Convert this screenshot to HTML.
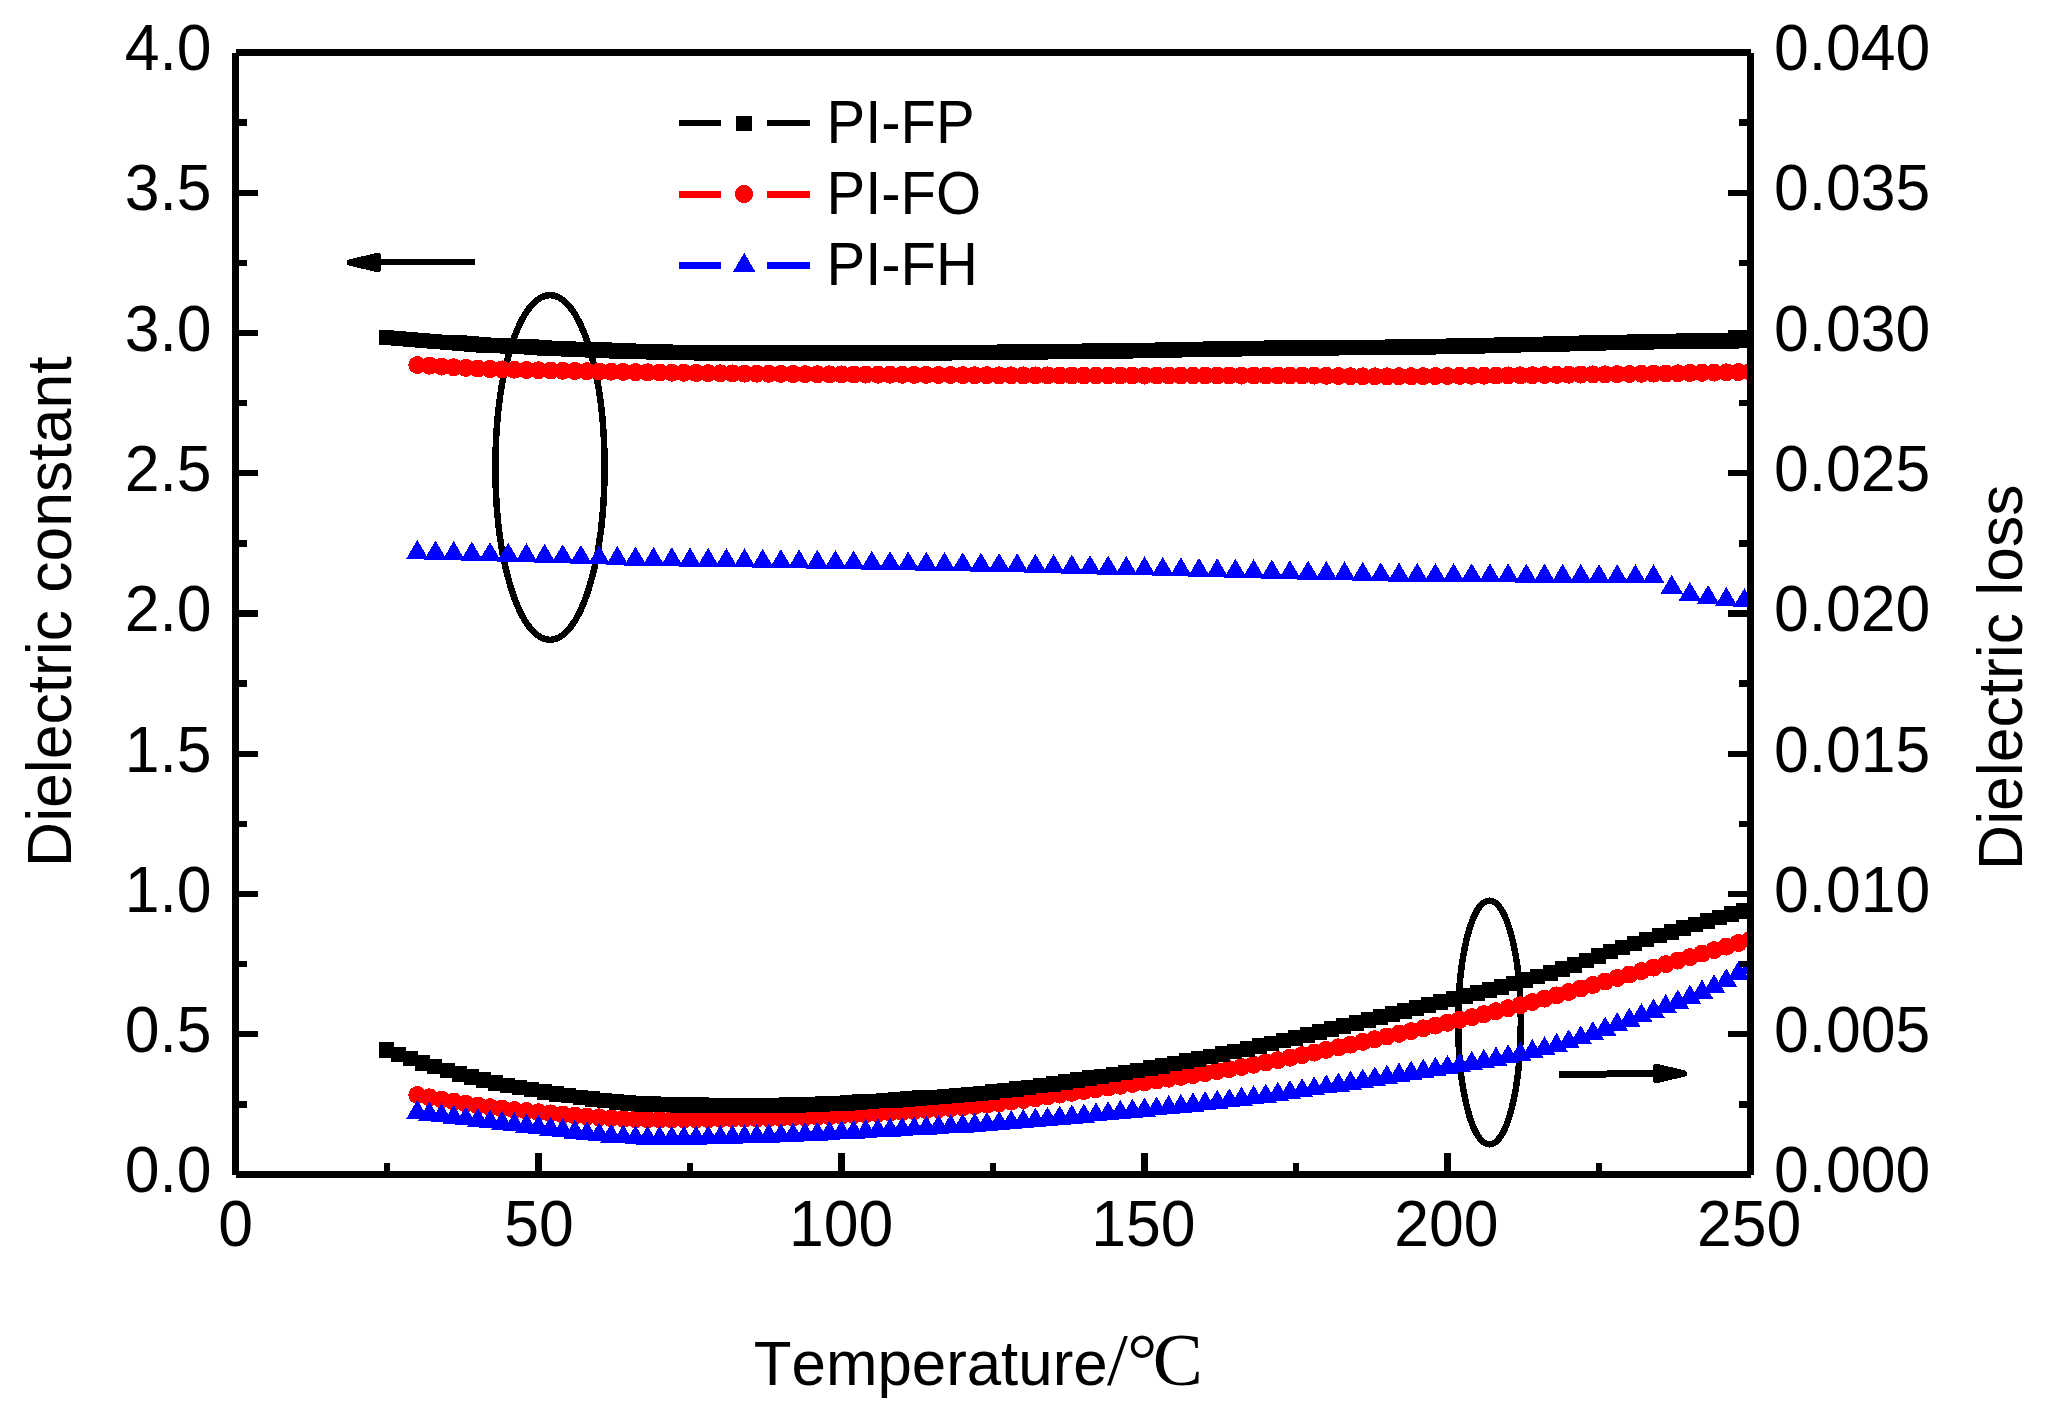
<!DOCTYPE html>
<html><head><meta charset="utf-8"><title>Dielectric constant and loss vs temperature</title>
<style>
html,body{margin:0;padding:0;background:#fff}
svg{display:block}
text{font-family:"Liberation Sans",sans-serif;font-size:62.5px;fill:#000;font-kerning:none;font-variant-ligatures:none}
.lg{font-size:58px}
.ser{font-family:"Liberation Serif",serif;font-size:75px}
</style></head><body>
<svg width="2066" height="1422" viewBox="0 0 2066 1422">
<rect width="2066" height="1422" fill="#fff"/>
<defs><clipPath id="cp"><rect x="232" y="49" width="1518.5" height="1129"/></clipPath></defs>
<g shape-rendering="crispEdges">
<g fill="none" stroke="#000" stroke-width="6.5">
<ellipse cx="550" cy="467.5" rx="54.6" ry="172.4"/>
<ellipse cx="1489.5" cy="1022.5" rx="31.3" ry="121.9"/>
</g>
<g clip-path="url(#cp)">
<g fill="#f00"><circle cx="417.3" cy="365" r="9"/><circle cx="429.4" cy="365.7" r="9"/><circle cx="441.5" cy="366.5" r="9"/><circle cx="453.7" cy="367.2" r="9"/><circle cx="465.8" cy="367.9" r="9"/><circle cx="477.9" cy="368.5" r="9"/><circle cx="490" cy="369" r="9"/><circle cx="502.1" cy="369.4" r="9"/><circle cx="514.3" cy="369.7" r="9"/><circle cx="526.4" cy="370" r="9"/><circle cx="538.5" cy="370.2" r="9"/><circle cx="550.6" cy="370.5" r="9"/><circle cx="562.7" cy="370.8" r="9"/><circle cx="574.9" cy="371" r="9"/><circle cx="587" cy="371.2" r="9"/><circle cx="599.1" cy="371.5" r="9"/><circle cx="611.2" cy="371.7" r="9"/><circle cx="623.3" cy="371.9" r="9"/><circle cx="635.5" cy="372.1" r="9"/><circle cx="647.6" cy="372.3" r="9"/><circle cx="659.7" cy="372.5" r="9"/><circle cx="671.8" cy="372.7" r="9"/><circle cx="683.9" cy="372.8" r="9"/><circle cx="696.1" cy="373" r="9"/><circle cx="708.2" cy="373.1" r="9"/><circle cx="720.3" cy="373.3" r="9"/><circle cx="732.4" cy="373.4" r="9"/><circle cx="744.5" cy="373.6" r="9"/><circle cx="756.7" cy="373.7" r="9"/><circle cx="768.8" cy="373.8" r="9"/><circle cx="780.9" cy="373.9" r="9"/><circle cx="793" cy="374" r="9"/><circle cx="805.1" cy="374.1" r="9"/><circle cx="817.3" cy="374.2" r="9"/><circle cx="829.4" cy="374.3" r="9"/><circle cx="841.5" cy="374.4" r="9"/><circle cx="853.6" cy="374.5" r="9"/><circle cx="865.7" cy="374.6" r="9"/><circle cx="877.9" cy="374.7" r="9"/><circle cx="890" cy="374.7" r="9"/><circle cx="902.1" cy="374.8" r="9"/><circle cx="914.2" cy="374.9" r="9"/><circle cx="926.3" cy="374.9" r="9"/><circle cx="938.5" cy="375" r="9"/><circle cx="950.6" cy="375" r="9"/><circle cx="962.7" cy="375.1" r="9"/><circle cx="974.8" cy="375.2" r="9"/><circle cx="986.9" cy="375.2" r="9"/><circle cx="999.1" cy="375.3" r="9"/><circle cx="1011.2" cy="375.3" r="9"/><circle cx="1023.3" cy="375.4" r="9"/><circle cx="1035.4" cy="375.4" r="9"/><circle cx="1047.5" cy="375.4" r="9"/><circle cx="1059.7" cy="375.5" r="9"/><circle cx="1071.8" cy="375.5" r="9"/><circle cx="1083.9" cy="375.5" r="9"/><circle cx="1096" cy="375.5" r="9"/><circle cx="1108.1" cy="375.5" r="9"/><circle cx="1120.3" cy="375.5" r="9"/><circle cx="1132.4" cy="375.5" r="9"/><circle cx="1144.5" cy="375.5" r="9"/><circle cx="1156.6" cy="375.5" r="9"/><circle cx="1168.7" cy="375.5" r="9"/><circle cx="1180.9" cy="375.5" r="9"/><circle cx="1193" cy="375.5" r="9"/><circle cx="1205.1" cy="375.5" r="9"/><circle cx="1217.2" cy="375.5" r="9"/><circle cx="1229.3" cy="375.5" r="9"/><circle cx="1241.5" cy="375.5" r="9"/><circle cx="1253.6" cy="375.5" r="9"/><circle cx="1265.7" cy="375.5" r="9"/><circle cx="1277.8" cy="375.5" r="9"/><circle cx="1289.9" cy="375.5" r="9"/><circle cx="1302.1" cy="375.5" r="9"/><circle cx="1314.2" cy="375.6" r="9"/><circle cx="1326.3" cy="375.8" r="9"/><circle cx="1338.4" cy="376" r="9"/><circle cx="1350.5" cy="376.2" r="9"/><circle cx="1362.7" cy="376.3" r="9"/><circle cx="1374.8" cy="376.3" r="9"/><circle cx="1386.9" cy="376.3" r="9"/><circle cx="1399" cy="376.2" r="9"/><circle cx="1411.1" cy="376.2" r="9"/><circle cx="1423.3" cy="376.1" r="9"/><circle cx="1435.4" cy="376.1" r="9"/><circle cx="1447.5" cy="376" r="9"/><circle cx="1459.6" cy="375.9" r="9"/><circle cx="1471.7" cy="375.8" r="9"/><circle cx="1483.9" cy="375.7" r="9"/><circle cx="1496" cy="375.6" r="9"/><circle cx="1508.1" cy="375.4" r="9"/><circle cx="1520.2" cy="375.3" r="9"/><circle cx="1532.3" cy="375.2" r="9"/><circle cx="1544.5" cy="375" r="9"/><circle cx="1556.6" cy="374.9" r="9"/><circle cx="1568.7" cy="374.7" r="9"/><circle cx="1580.8" cy="374.6" r="9"/><circle cx="1592.9" cy="374.4" r="9"/><circle cx="1605.1" cy="374.3" r="9"/><circle cx="1617.2" cy="374.1" r="9"/><circle cx="1629.3" cy="374" r="9"/><circle cx="1641.4" cy="373.8" r="9"/><circle cx="1653.5" cy="373.7" r="9"/><circle cx="1665.7" cy="373.5" r="9"/><circle cx="1677.8" cy="373.3" r="9"/><circle cx="1689.9" cy="373" r="9"/><circle cx="1702" cy="372.8" r="9"/><circle cx="1714.1" cy="372.6" r="9"/><circle cx="1726.3" cy="372.3" r="9"/><circle cx="1738.4" cy="372.1" r="9"/><circle cx="1750.5" cy="371.8" r="9"/></g>
<path fill="#00f" d="M417.3 539.9L428.5 558.9L406.1 558.9zM435.5 540.5L446.7 559.5L424.3 559.5zM453.7 541L464.9 560L442.5 560zM471.8 541.6L483 560.6L460.6 560.6zM490 542.1L501.2 561.1L478.8 561.1zM508.2 542.7L519.4 561.7L497 561.7zM526.4 543.2L537.6 562.2L515.2 562.2zM544.6 543.8L555.8 562.8L533.4 562.8zM562.7 544.3L573.9 563.3L551.5 563.3zM580.9 544.9L592.1 563.9L569.7 563.9zM599.1 545.4L610.3 564.4L587.9 564.4zM617.3 546L628.5 565L606.1 565zM635.5 546.5L646.7 565.5L624.3 565.5zM653.6 546.9L664.8 565.9L642.4 565.9zM671.8 547.2L683 566.2L660.6 566.2zM690 547.5L701.2 566.5L678.8 566.5zM708.2 547.8L719.4 566.8L697 566.8zM726.4 548.1L737.6 567.1L715.2 567.1zM744.5 548.4L755.7 567.4L733.3 567.4zM762.7 548.8L773.9 567.8L751.5 567.8zM780.9 549.1L792.1 568.1L769.7 568.1zM799.1 549.4L810.3 568.4L787.9 568.4zM817.3 549.7L828.5 568.7L806.1 568.7zM835.4 550L846.6 569L824.2 569zM853.6 550.4L864.8 569.4L842.4 569.4zM871.8 550.7L883 569.7L860.6 569.7zM890 551L901.2 570L878.8 570zM908.2 551.3L919.4 570.3L897 570.3zM926.3 551.6L937.5 570.6L915.1 570.6zM944.5 552L955.7 571L933.3 571zM962.7 552.3L973.9 571.3L951.5 571.3zM980.9 552.6L992.1 571.6L969.7 571.6zM999.1 552.9L1010.3 571.9L987.9 571.9zM1017.2 553.2L1028.4 572.2L1006 572.2zM1035.4 553.7L1046.6 572.7L1024.2 572.7zM1053.6 554.1L1064.8 573.1L1042.4 573.1zM1071.8 554.6L1083 573.6L1060.6 573.6zM1090 555.1L1101.2 574.1L1078.8 574.1zM1108.1 555.5L1119.3 574.5L1096.9 574.5zM1126.3 556L1137.5 575L1115.1 575zM1144.5 556.4L1155.7 575.4L1133.3 575.4zM1162.7 556.9L1173.9 575.9L1151.5 575.9zM1180.9 557.3L1192.1 576.3L1169.7 576.3zM1199 557.8L1210.2 576.8L1187.8 576.8zM1217.2 558.2L1228.4 577.2L1206 577.2zM1235.4 558.7L1246.6 577.7L1224.2 577.7zM1253.6 559.1L1264.8 578.1L1242.4 578.1zM1271.8 559.6L1283 578.6L1260.6 578.6zM1289.9 560.1L1301.1 579.1L1278.7 579.1zM1308.1 560.5L1319.3 579.5L1296.9 579.5zM1326.3 561L1337.5 580L1315.1 580zM1344.5 561.4L1355.7 580.4L1333.3 580.4zM1362.7 561.9L1373.9 580.9L1351.5 580.9zM1380.8 562.3L1392 581.3L1369.6 581.3zM1399 562.6L1410.2 581.6L1387.8 581.6zM1417.2 562.8L1428.4 581.8L1406 581.8zM1435.4 563L1446.6 582L1424.2 582zM1453.6 563.1L1464.8 582.1L1442.4 582.1zM1471.7 563.2L1482.9 582.2L1460.5 582.2zM1489.9 563.3L1501.1 582.3L1478.7 582.3zM1508.1 563.4L1519.3 582.4L1496.9 582.4zM1526.3 563.6L1537.5 582.6L1515.1 582.6zM1544.5 563.7L1555.7 582.7L1533.3 582.7zM1562.6 563.8L1573.8 582.8L1551.4 582.8zM1580.8 563.9L1592 582.9L1569.6 582.9zM1599 564.1L1610.2 583.1L1587.8 583.1zM1617.2 564.2L1628.4 583.2L1606 583.2zM1635.4 564.3L1646.6 583.3L1624.2 583.3zM1653.5 564.4L1664.7 583.4L1642.3 583.4zM1671.7 574.8L1682.9 593.8L1660.5 593.8zM1689.9 581.8L1701.1 600.8L1678.7 600.8zM1708.1 585L1719.3 604L1696.9 604zM1726.3 587L1737.5 606L1715.1 606zM1744.4 588L1755.6 607L1733.2 607z"/>
<path fill="#000" d="M379 329.7h15v15.6h-15zM391 330.7h15v15.6h-15zM403 331.7h15v15.6h-15zM415 332.7h15v15.6h-15zM427 333.6h15v15.6h-15zM440 334.5h15v15.6h-15zM452 335.3h15v15.6h-15zM464 336.1h15v15.6h-15zM476 336.9h15v15.6h-15zM488 337.6h15v15.6h-15zM500 338.2h15v15.6h-15zM512 338.8h15v15.6h-15zM524 339.4h15v15.6h-15zM537 340h15v15.6h-15zM549 340.5h15v15.6h-15zM561 341h15v15.6h-15zM573 341.5h15v15.6h-15zM585 342h15v15.6h-15zM597 342.4h15v15.6h-15zM609 342.9h15v15.6h-15zM621 343.3h15v15.6h-15zM634 343.7h15v15.6h-15zM646 344.1h15v15.6h-15zM658 344.4h15v15.6h-15zM670 344.6h15v15.6h-15zM682 344.8h15v15.6h-15zM694 344.9h15v15.6h-15zM706 345h15v15.6h-15zM718 345h15v15.6h-15zM730 345h15v15.6h-15zM743 345h15v15.6h-15zM755 345h15v15.6h-15zM767 345h15v15.6h-15zM779 345h15v15.6h-15zM791 345h15v15.6h-15zM803 345h15v15.6h-15zM815 345h15v15.6h-15zM827 345h15v15.6h-15zM840 345h15v15.6h-15zM852 345h15v15.6h-15zM864 345h15v15.6h-15zM876 345h15v15.6h-15zM888 345h15v15.6h-15zM900 345h15v15.6h-15zM912 345h15v15.6h-15zM924 344.9h15v15.6h-15zM937 344.9h15v15.6h-15zM949 344.8h15v15.6h-15zM961 344.7h15v15.6h-15zM973 344.6h15v15.6h-15zM985 344.5h15v15.6h-15zM997 344.4h15v15.6h-15zM1009 344.2h15v15.6h-15zM1021 344.1h15v15.6h-15zM1033 343.9h15v15.6h-15zM1046 343.8h15v15.6h-15zM1058 343.6h15v15.6h-15zM1070 343.5h15v15.6h-15zM1082 343.3h15v15.6h-15zM1094 343.2h15v15.6h-15zM1106 343h15v15.6h-15zM1118 342.9h15v15.6h-15zM1130 342.7h15v15.6h-15zM1143 342.5h15v15.6h-15zM1155 342.2h15v15.6h-15zM1167 342h15v15.6h-15zM1179 341.8h15v15.6h-15zM1191 341.5h15v15.6h-15zM1203 341.3h15v15.6h-15zM1215 341.1h15v15.6h-15zM1227 340.9h15v15.6h-15zM1240 340.7h15v15.6h-15zM1252 340.5h15v15.6h-15zM1264 340.3h15v15.6h-15zM1276 340.2h15v15.6h-15zM1288 340h15v15.6h-15zM1300 340h15v15.6h-15zM1312 339.9h15v15.6h-15zM1324 339.9h15v15.6h-15zM1336 339.8h15v15.6h-15zM1349 339.7h15v15.6h-15zM1361 339.7h15v15.6h-15zM1373 339.5h15v15.6h-15zM1385 339.4h15v15.6h-15zM1397 339.2h15v15.6h-15zM1409 339.1h15v15.6h-15zM1421 338.9h15v15.6h-15zM1433 338.7h15v15.6h-15zM1446 338.4h15v15.6h-15zM1458 338.2h15v15.6h-15zM1470 337.9h15v15.6h-15zM1482 337.6h15v15.6h-15zM1494 337.4h15v15.6h-15zM1506 337.1h15v15.6h-15zM1518 336.8h15v15.6h-15zM1530 336.5h15v15.6h-15zM1543 336.2h15v15.6h-15zM1555 335.9h15v15.6h-15zM1567 335.6h15v15.6h-15zM1579 335.3h15v15.6h-15zM1591 335.1h15v15.6h-15zM1603 334.8h15v15.6h-15zM1615 334.5h15v15.6h-15zM1627 334.3h15v15.6h-15zM1639 334h15v15.6h-15zM1652 333.8h15v15.6h-15zM1664 333.6h15v15.6h-15zM1676 333.4h15v15.6h-15zM1688 333.3h15v15.6h-15zM1700 333.1h15v15.6h-15zM1712 333h15v15.6h-15zM1724 332.9h15v15.6h-15zM1736 332.8h15v15.6h-15z"/>
<rect x="1728" y="330" width="20" height="15" fill="#000"/>
<g fill="#f00"><circle cx="417.3" cy="1095" r="9"/><circle cx="429.4" cy="1097.3" r="9"/><circle cx="441.5" cy="1099.5" r="9"/><circle cx="453.7" cy="1101.6" r="9"/><circle cx="465.8" cy="1103.7" r="9"/><circle cx="477.9" cy="1105.5" r="9"/><circle cx="490" cy="1107.2" r="9"/><circle cx="502.1" cy="1108.7" r="9"/><circle cx="514.3" cy="1110" r="9"/><circle cx="526.4" cy="1111.1" r="9"/><circle cx="538.5" cy="1112.3" r="9"/><circle cx="550.6" cy="1113.4" r="9"/><circle cx="562.7" cy="1114.5" r="9"/><circle cx="574.9" cy="1115.5" r="9"/><circle cx="587" cy="1116.5" r="9"/><circle cx="599.1" cy="1117.3" r="9"/><circle cx="611.2" cy="1118.1" r="9"/><circle cx="623.3" cy="1118.7" r="9"/><circle cx="635.5" cy="1119.1" r="9"/><circle cx="647.6" cy="1119.4" r="9"/><circle cx="659.7" cy="1119.5" r="9"/><circle cx="671.8" cy="1119.5" r="9"/><circle cx="683.9" cy="1119.4" r="9"/><circle cx="696.1" cy="1119.3" r="9"/><circle cx="708.2" cy="1119.2" r="9"/><circle cx="720.3" cy="1119" r="9"/><circle cx="732.4" cy="1118.9" r="9"/><circle cx="744.5" cy="1118.7" r="9"/><circle cx="756.7" cy="1118.5" r="9"/><circle cx="768.8" cy="1118.2" r="9"/><circle cx="780.9" cy="1118" r="9"/><circle cx="793" cy="1117.7" r="9"/><circle cx="805.1" cy="1117.3" r="9"/><circle cx="817.3" cy="1116.9" r="9"/><circle cx="829.4" cy="1116.4" r="9"/><circle cx="841.5" cy="1115.8" r="9"/><circle cx="853.6" cy="1115.1" r="9"/><circle cx="865.7" cy="1114.4" r="9"/><circle cx="877.9" cy="1113.6" r="9"/><circle cx="890" cy="1112.8" r="9"/><circle cx="902.1" cy="1112" r="9"/><circle cx="914.2" cy="1111.1" r="9"/><circle cx="926.3" cy="1110.1" r="9"/><circle cx="938.5" cy="1109.2" r="9"/><circle cx="950.6" cy="1108.2" r="9"/><circle cx="962.7" cy="1107.2" r="9"/><circle cx="974.8" cy="1106" r="9"/><circle cx="986.9" cy="1104.7" r="9"/><circle cx="999.1" cy="1103.2" r="9"/><circle cx="1011.2" cy="1101.6" r="9"/><circle cx="1023.3" cy="1100" r="9"/><circle cx="1035.4" cy="1098.2" r="9"/><circle cx="1047.5" cy="1096.4" r="9"/><circle cx="1059.7" cy="1094.6" r="9"/><circle cx="1071.8" cy="1092.8" r="9"/><circle cx="1083.9" cy="1091" r="9"/><circle cx="1096" cy="1089.2" r="9"/><circle cx="1108.1" cy="1087.5" r="9"/><circle cx="1120.3" cy="1085.8" r="9"/><circle cx="1132.4" cy="1084" r="9"/><circle cx="1144.5" cy="1082.3" r="9"/><circle cx="1156.6" cy="1080.5" r="9"/><circle cx="1168.7" cy="1078.7" r="9"/><circle cx="1180.9" cy="1076.9" r="9"/><circle cx="1193" cy="1075" r="9"/><circle cx="1205.1" cy="1073.1" r="9"/><circle cx="1217.2" cy="1071.1" r="9"/><circle cx="1229.3" cy="1069.1" r="9"/><circle cx="1241.5" cy="1067" r="9"/><circle cx="1253.6" cy="1064.8" r="9"/><circle cx="1265.7" cy="1062.5" r="9"/><circle cx="1277.8" cy="1060.1" r="9"/><circle cx="1289.9" cy="1057.7" r="9"/><circle cx="1302.1" cy="1055.1" r="9"/><circle cx="1314.2" cy="1052.6" r="9"/><circle cx="1326.3" cy="1049.9" r="9"/><circle cx="1338.4" cy="1047.3" r="9"/><circle cx="1350.5" cy="1044.6" r="9"/><circle cx="1362.7" cy="1041.9" r="9"/><circle cx="1374.8" cy="1039.2" r="9"/><circle cx="1386.9" cy="1036.5" r="9"/><circle cx="1399" cy="1033.8" r="9"/><circle cx="1411.1" cy="1031.1" r="9"/><circle cx="1423.3" cy="1028.3" r="9"/><circle cx="1435.4" cy="1025.6" r="9"/><circle cx="1447.5" cy="1022.8" r="9"/><circle cx="1459.6" cy="1019.9" r="9"/><circle cx="1471.7" cy="1017.1" r="9"/><circle cx="1483.9" cy="1014.2" r="9"/><circle cx="1496" cy="1011.2" r="9"/><circle cx="1508.1" cy="1008.2" r="9"/><circle cx="1520.2" cy="1005.2" r="9"/><circle cx="1532.3" cy="1002" r="9"/><circle cx="1544.5" cy="998.7" r="9"/><circle cx="1556.6" cy="995.4" r="9"/><circle cx="1568.7" cy="992" r="9"/><circle cx="1580.8" cy="988.5" r="9"/><circle cx="1592.9" cy="985" r="9"/><circle cx="1605.1" cy="981.5" r="9"/><circle cx="1617.2" cy="978" r="9"/><circle cx="1629.3" cy="974.5" r="9"/><circle cx="1641.4" cy="971.1" r="9"/><circle cx="1653.5" cy="967.6" r="9"/><circle cx="1665.7" cy="964.1" r="9"/><circle cx="1677.8" cy="960.6" r="9"/><circle cx="1689.9" cy="957.1" r="9"/><circle cx="1702" cy="953.6" r="9"/><circle cx="1714.1" cy="950.1" r="9"/><circle cx="1726.3" cy="946.6" r="9"/><circle cx="1738.4" cy="943" r="9"/><circle cx="1750.5" cy="939.5" r="9"/></g>
<path fill="#00f" d="M417.3 1099.9L428.5 1118.9L406.1 1118.9zM429.4 1101.6L440.6 1120.6L418.2 1120.6zM441.5 1103.2L452.7 1122.2L430.3 1122.2zM453.7 1104.8L464.9 1123.8L442.5 1123.8zM465.8 1106.4L477 1125.4L454.6 1125.4zM477.9 1107.9L489.1 1126.9L466.7 1126.9zM490 1109.4L501.2 1128.4L478.8 1128.4zM502.1 1110.8L513.3 1129.8L490.9 1129.8zM514.3 1112.1L525.5 1131.1L503.1 1131.1zM526.4 1113.5L537.6 1132.5L515.2 1132.5zM538.5 1115L549.7 1134L527.3 1134zM550.6 1116.5L561.8 1135.5L539.4 1135.5zM562.7 1118L573.9 1137L551.5 1137zM574.9 1119.5L586.1 1138.5L563.7 1138.5zM587 1121L598.2 1140L575.8 1140zM599.1 1122.3L610.3 1141.3L587.9 1141.3zM611.2 1123.5L622.4 1142.5L600 1142.5zM623.3 1124.4L634.5 1143.4L612.1 1143.4zM635.5 1125.2L646.7 1144.2L624.3 1144.2zM647.6 1125.7L658.8 1144.7L636.4 1144.7zM659.7 1125.8L670.9 1144.8L648.5 1144.8zM671.8 1125.8L683 1144.8L660.6 1144.8zM683.9 1125.7L695.1 1144.7L672.7 1144.7zM696.1 1125.6L707.3 1144.6L684.9 1144.6zM708.2 1125.4L719.4 1144.4L697 1144.4zM720.3 1125.1L731.5 1144.1L709.1 1144.1zM732.4 1124.8L743.6 1143.8L721.2 1143.8zM744.5 1124.4L755.7 1143.4L733.3 1143.4zM756.7 1124L767.9 1143L745.5 1143zM768.8 1123.6L780 1142.6L757.6 1142.6zM780.9 1123.1L792.1 1142.1L769.7 1142.1zM793 1122.6L804.2 1141.6L781.8 1141.6zM805.1 1122.1L816.3 1141.1L793.9 1141.1zM817.3 1121.5L828.5 1140.5L806.1 1140.5zM829.4 1120.9L840.6 1139.9L818.2 1139.9zM841.5 1120.3L852.7 1139.3L830.3 1139.3zM853.6 1119.7L864.8 1138.7L842.4 1138.7zM865.7 1119L876.9 1138L854.5 1138zM877.9 1118.3L889.1 1137.3L866.7 1137.3zM890 1117.6L901.2 1136.6L878.8 1136.6zM902.1 1117L913.3 1136L890.9 1136zM914.2 1116.3L925.4 1135.3L903 1135.3zM926.3 1115.6L937.5 1134.6L915.1 1134.6zM938.5 1114.9L949.7 1133.9L927.3 1133.9zM950.6 1114.2L961.8 1133.2L939.4 1133.2zM962.7 1113.5L973.9 1132.5L951.5 1132.5zM974.8 1112.7L986 1131.7L963.6 1131.7zM986.9 1111.9L998.1 1130.9L975.7 1130.9zM999.1 1111L1010.3 1130L987.9 1130zM1011.2 1110L1022.4 1129L1000 1129zM1023.3 1109L1034.5 1128L1012.1 1128zM1035.4 1107.9L1046.6 1126.9L1024.2 1126.9zM1047.5 1106.9L1058.7 1125.9L1036.3 1125.9zM1059.7 1105.7L1070.9 1124.7L1048.5 1124.7zM1071.8 1104.6L1083 1123.6L1060.6 1123.6zM1083.9 1103.5L1095.1 1122.5L1072.7 1122.5zM1096 1102.3L1107.2 1121.3L1084.8 1121.3zM1108.1 1101.2L1119.3 1120.2L1096.9 1120.2zM1120.3 1100L1131.5 1119L1109.1 1119zM1132.4 1098.8L1143.6 1117.8L1121.2 1117.8zM1144.5 1097.6L1155.7 1116.6L1133.3 1116.6zM1156.6 1096.4L1167.8 1115.4L1145.4 1115.4zM1168.7 1095.1L1179.9 1114.1L1157.5 1114.1zM1180.9 1093.8L1192.1 1112.8L1169.7 1112.8zM1193 1092.5L1204.2 1111.5L1181.8 1111.5zM1205.1 1091.1L1216.3 1110.1L1193.9 1110.1zM1217.2 1089.7L1228.4 1108.7L1206 1108.7zM1229.3 1088.2L1240.5 1107.2L1218.1 1107.2zM1241.5 1086.7L1252.7 1105.7L1230.3 1105.7zM1253.6 1085.2L1264.8 1104.2L1242.4 1104.2zM1265.7 1083.5L1276.9 1102.5L1254.5 1102.5zM1277.8 1081.8L1289 1100.8L1266.6 1100.8zM1289.9 1080L1301.1 1099L1278.7 1099zM1302.1 1078.2L1313.3 1097.2L1290.9 1097.2zM1314.2 1076.3L1325.4 1095.3L1303 1095.3zM1326.3 1074.4L1337.5 1093.4L1315.1 1093.4zM1338.4 1072.5L1349.6 1091.5L1327.2 1091.5zM1350.5 1070.5L1361.7 1089.5L1339.3 1089.5zM1362.7 1068.5L1373.9 1087.5L1351.5 1087.5zM1374.8 1066.5L1386 1085.5L1363.6 1085.5zM1386.9 1064.5L1398.1 1083.5L1375.7 1083.5zM1399 1062.6L1410.2 1081.6L1387.8 1081.6zM1411.1 1060.6L1422.3 1079.6L1399.9 1079.6zM1423.3 1058.7L1434.5 1077.7L1412.1 1077.7zM1435.4 1056.8L1446.6 1075.8L1424.2 1075.8zM1447.5 1054.9L1458.7 1073.9L1436.3 1073.9zM1459.6 1052.9L1470.8 1071.9L1448.4 1071.9zM1471.7 1050.9L1482.9 1069.9L1460.5 1069.9zM1483.9 1048.8L1495.1 1067.8L1472.7 1067.8zM1496 1046.6L1507.2 1065.6L1484.8 1065.6zM1508.1 1044.2L1519.3 1063.2L1496.9 1063.2zM1520.2 1041.7L1531.4 1060.7L1509 1060.7zM1532.3 1039.1L1543.5 1058.1L1521.1 1058.1zM1544.5 1036.2L1555.7 1055.2L1533.3 1055.2zM1556.6 1032.9L1567.8 1051.9L1545.4 1051.9zM1568.7 1029.3L1579.9 1048.3L1557.5 1048.3zM1580.8 1025.3L1592 1044.3L1569.6 1044.3zM1592.9 1021.1L1604.1 1040.1L1581.7 1040.1zM1605.1 1016.7L1616.3 1035.7L1593.9 1035.7zM1617.2 1012.2L1628.4 1031.2L1606 1031.2zM1629.3 1007.7L1640.5 1026.7L1618.1 1026.7zM1641.4 1003.1L1652.6 1022.1L1630.2 1022.1zM1653.5 998.7L1664.7 1017.7L1642.3 1017.7zM1665.7 994.1L1676.9 1013.1L1654.5 1013.1zM1677.8 989.5L1689 1008.5L1666.6 1008.5zM1689.9 984.7L1701.1 1003.7L1678.7 1003.7zM1702 979.6L1713.2 998.6L1690.8 998.6zM1714.1 974.2L1725.3 993.2L1702.9 993.2zM1726.3 968.3L1737.5 987.3L1715.1 987.3zM1738.4 961.2L1749.6 980.2L1727.2 980.2zM1750.5 955.3L1761.7 974.3L1739.3 974.3z"/>
<path fill="#000" d="M379 1042.2h15v15.6h-15zM391 1046.6h15v15.6h-15zM403 1050.8h15v15.6h-15zM415 1054.9h15v15.6h-15zM427 1058.8h15v15.6h-15zM440 1062.6h15v15.6h-15zM452 1066.1h15v15.6h-15zM464 1069.4h15v15.6h-15zM476 1072.4h15v15.6h-15zM488 1075.2h15v15.6h-15zM500 1077.6h15v15.6h-15zM512 1079.8h15v15.6h-15zM524 1081.8h15v15.6h-15zM537 1083.9h15v15.6h-15zM549 1085.9h15v15.6h-15zM561 1087.8h15v15.6h-15zM573 1089.6h15v15.6h-15zM585 1091.2h15v15.6h-15zM597 1092.7h15v15.6h-15zM609 1094h15v15.6h-15zM621 1095h15v15.6h-15zM634 1095.9h15v15.6h-15zM646 1096.4h15v15.6h-15zM658 1096.7h15v15.6h-15zM670 1097h15v15.6h-15zM682 1097.2h15v15.6h-15zM694 1097.4h15v15.6h-15zM706 1097.6h15v15.6h-15zM718 1097.7h15v15.6h-15zM730 1097.8h15v15.6h-15zM743 1097.8h15v15.6h-15zM755 1097.7h15v15.6h-15zM767 1097.6h15v15.6h-15zM779 1097.4h15v15.6h-15zM791 1097h15v15.6h-15zM803 1096.6h15v15.6h-15zM815 1096.1h15v15.6h-15zM827 1095.6h15v15.6h-15zM840 1095h15v15.6h-15zM852 1094.3h15v15.6h-15zM864 1093.6h15v15.6h-15zM876 1092.8h15v15.6h-15zM888 1092h15v15.6h-15zM900 1091.2h15v15.6h-15zM912 1090.4h15v15.6h-15zM924 1089.5h15v15.6h-15zM937 1088.6h15v15.6h-15zM949 1087.7h15v15.6h-15zM961 1086.7h15v15.6h-15zM973 1085.5h15v15.6h-15zM985 1084.2h15v15.6h-15zM997 1082.7h15v15.6h-15zM1009 1081.1h15v15.6h-15zM1021 1079.5h15v15.6h-15zM1033 1077.8h15v15.6h-15zM1046 1076h15v15.6h-15zM1058 1074.1h15v15.6h-15zM1070 1072.3h15v15.6h-15zM1082 1070.4h15v15.6h-15zM1094 1068.5h15v15.6h-15zM1106 1066.6h15v15.6h-15zM1118 1064.6h15v15.6h-15zM1130 1062.5h15v15.6h-15zM1143 1060.3h15v15.6h-15zM1155 1058.1h15v15.6h-15zM1167 1055.7h15v15.6h-15zM1179 1053.4h15v15.6h-15zM1191 1051h15v15.6h-15zM1203 1048.5h15v15.6h-15zM1215 1046h15v15.6h-15zM1227 1043.5h15v15.6h-15zM1240 1040.9h15v15.6h-15zM1252 1038.3h15v15.6h-15zM1264 1035.5h15v15.6h-15zM1276 1032.7h15v15.6h-15zM1288 1029.9h15v15.6h-15zM1300 1026.9h15v15.6h-15zM1312 1024h15v15.6h-15zM1324 1021h15v15.6h-15zM1336 1017.9h15v15.6h-15zM1349 1014.9h15v15.6h-15zM1361 1011.9h15v15.6h-15zM1373 1008.9h15v15.6h-15zM1385 1005.9h15v15.6h-15zM1397 1002.9h15v15.6h-15zM1409 999.9h15v15.6h-15zM1421 997h15v15.6h-15zM1433 994.1h15v15.6h-15zM1446 991.1h15v15.6h-15zM1458 988.2h15v15.6h-15zM1470 985.1h15v15.6h-15zM1482 982h15v15.6h-15zM1494 978.9h15v15.6h-15zM1506 975.6h15v15.6h-15zM1518 972.2h15v15.6h-15zM1530 968.7h15v15.6h-15zM1543 965h15v15.6h-15zM1555 961.1h15v15.6h-15zM1567 956.9h15v15.6h-15zM1579 952.5h15v15.6h-15zM1591 948.2h15v15.6h-15zM1603 943.8h15v15.6h-15zM1615 939.5h15v15.6h-15zM1627 935.5h15v15.6h-15zM1639 931.6h15v15.6h-15zM1652 927.8h15v15.6h-15zM1664 924h15v15.6h-15zM1676 920.4h15v15.6h-15zM1688 916.7h15v15.6h-15zM1700 913.2h15v15.6h-15zM1712 909.7h15v15.6h-15zM1724 906.3h15v15.6h-15zM1736 902.9h15v15.6h-15z"/>
</g>
<path fill="none" stroke="#000" stroke-width="7" d="M235.5 52.5V1174.5M235.5 52.5H1750.5M1750.5 52.5V1174.5M235.5 1174.5H1750.5"/>
<path fill="none" stroke="#000" stroke-width="6.5" d="M239 122.6h8M1747 122.6h-8M239 192.8h19M1747 192.8h-19M239 262.9h8M1747 262.9h-8M239 333h19M1747 333h-19M239 403.1h8M1747 403.1h-8M239 473.2h19M1747 473.2h-19M239 543.4h8M1747 543.4h-8M239 613.5h19M1747 613.5h-19M239 683.6h8M1747 683.6h-8M239 753.8h19M1747 753.8h-19M239 823.9h8M1747 823.9h-8M239 894h19M1747 894h-19M239 964.1h8M1747 964.1h-8M239 1034.2h19M1747 1034.2h-19M239 1104.4h8M1747 1104.4h-8M387 1171v-8M538.5 1171v-18M690 1171v-8M841.5 1171v-18M993 1171v-8M1144.5 1171v-18M1296 1171v-8M1447.5 1171v-18M1599 1171v-8"/>
<!-- arrows -->
<g stroke="#000" fill="#000" stroke-linejoin="round">
<path d="M475 262H378" stroke-width="6" fill="none"/>
<path d="M350 262.5L378 256V269Z" stroke-width="6.5"/>
<path d="M1559 1074.5L1656 1073.5" stroke-width="7" fill="none"/>
<path d="M1684 1073.5L1656 1067V1080Z" stroke-width="6.5"/>
</g>
<!-- legend -->
<g stroke-width="6.5" fill="none">
<path stroke="#000" d="M679 123H721M767 123H810"/>
<path stroke="#f00" d="M679 194.6H721M767 194.6H810"/>
<path stroke="#00f" d="M679 265.4H721M767 265.4H810"/>
</g>
<rect x="736" y="116" width="16" height="15" fill="#000"/>
<circle cx="744" cy="194" r="9.1" fill="#f00"/>
<path d="M744.2 252.8L755.4 271.9H733Z" fill="#00f"/>
</g>
<g class="lg">
<text class="lg" transform="translate(826.5 143) scale(1 1.05)">PI-FP</text>
<text class="lg" transform="translate(826.5 214) scale(1 1.05)">PI-FO</text>
<text class="lg" transform="translate(826.5 285) scale(1 1.05)">PI-FH</text>
</g>
<text transform="translate(211.5 70.2) scale(1 1.04)" text-anchor="end">4.0</text>
<text transform="translate(1774 70.2) scale(1 1.04)">0.040</text>
<text transform="translate(211.5 210.4) scale(1 1.04)" text-anchor="end">3.5</text>
<text transform="translate(1774 210.4) scale(1 1.04)">0.035</text>
<text transform="translate(211.5 350.7) scale(1 1.04)" text-anchor="end">3.0</text>
<text transform="translate(1774 350.7) scale(1 1.04)">0.030</text>
<text transform="translate(211.5 490.9) scale(1 1.04)" text-anchor="end">2.5</text>
<text transform="translate(1774 490.9) scale(1 1.04)">0.025</text>
<text transform="translate(211.5 631.2) scale(1 1.04)" text-anchor="end">2.0</text>
<text transform="translate(1774 631.2) scale(1 1.04)">0.020</text>
<text transform="translate(211.5 771.5) scale(1 1.04)" text-anchor="end">1.5</text>
<text transform="translate(1774 771.5) scale(1 1.04)">0.015</text>
<text transform="translate(211.5 911.7) scale(1 1.04)" text-anchor="end">1.0</text>
<text transform="translate(1774 911.7) scale(1 1.04)">0.010</text>
<text transform="translate(211.5 1052) scale(1 1.04)" text-anchor="end">0.5</text>
<text transform="translate(1774 1052) scale(1 1.04)">0.005</text>
<text transform="translate(211.5 1192.2) scale(1 1.04)" text-anchor="end">0.0</text>
<text transform="translate(1774 1192.2) scale(1 1.04)">0.000</text>
<text transform="translate(235.7 1246.2) scale(1 1.04)" text-anchor="middle">0</text>
<text transform="translate(538.9 1246.2) scale(1 1.04)" text-anchor="middle">50</text>
<text transform="translate(841.1 1246.2) scale(1 1.04)" text-anchor="middle">100</text>
<text transform="translate(1143.4 1246.2) scale(1 1.04)" text-anchor="middle">150</text>
<text transform="translate(1446.5 1246.2) scale(1 1.04)" text-anchor="middle">200</text>
<text transform="translate(1749.2 1246.2) scale(1 1.04)" text-anchor="middle">250</text>
<text transform="translate(71 867) rotate(-90) scale(1 1.015)">Dielectric constant</text>
<text transform="translate(2022 870) rotate(-90) scale(1 1.015)">Dielectric loss</text>
<text transform="translate(753.8 1385) scale(0.989 1.015)">Temperature</text>
<text class="ser" x="1107.1" y="1385" dx="0 -0.75 -4.4">/°C</text>
</svg>
</body></html>
